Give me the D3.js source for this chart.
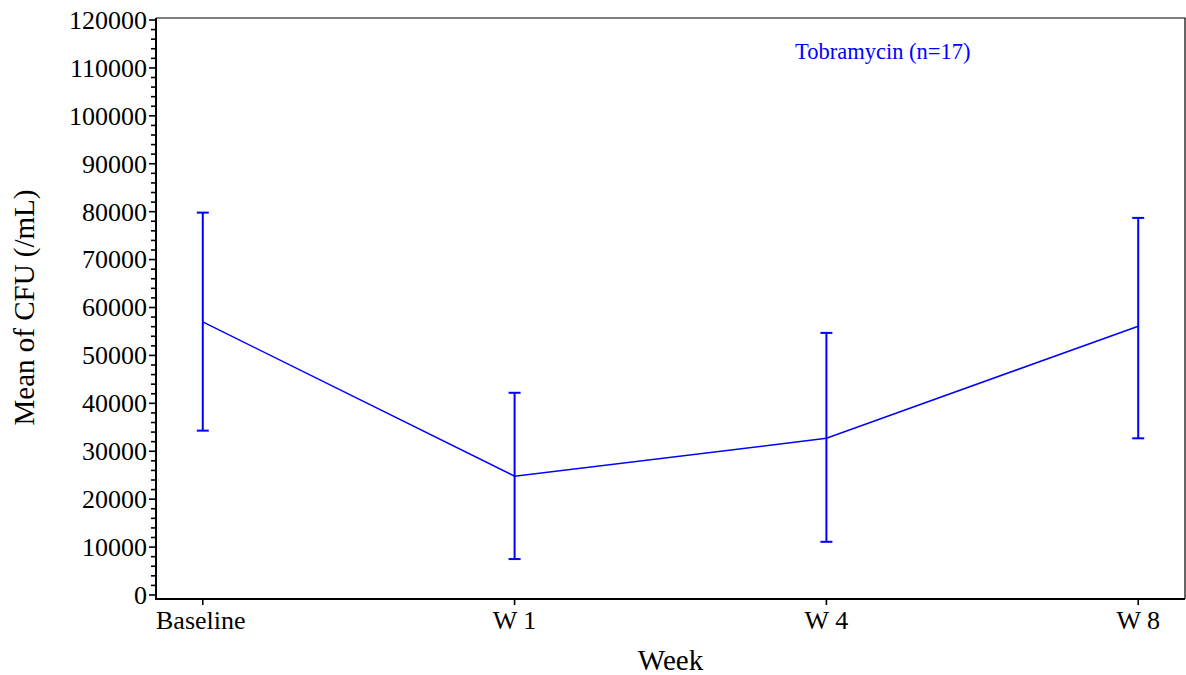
<!DOCTYPE html>
<meta charset="utf-8">
<style>
body { margin: 0; background: #fff; }
text { font-family: "Liberation Serif", "Times New Roman", serif; }
.axis path, .axis line { stroke: #000; }
</style>
<svg width="1186" height="675"></svg>
<script src="https://cdnjs.cloudflare.com/ajax/libs/d3/7.8.5/d3.min.js"></script>
<script>
// data
var weeks = ["Baseline", "W 1", "W 4", "W 8"];
var means = [57000, 24800, 32700, 56100];
var upper = [79800, 42200, 54700, 78700];
var lower = [34300, 7500, 11100, 32700];
var yTicks = d3.range(0, 120001, 10000);
var legendLabel = "Tobramycin (n=17)";

var svg = d3.select("svg"),
    plotL = 156, plotR = 1185, plotT = 18, plotB = 599;

var x = d3.scalePoint().domain(weeks).range([plotL, plotR]).padding(0.15),
    y = d3.scaleLinear().domain([0, 120000]).range([595, 20]);

// frame top/right
svg.append("path")
    .attr("d", "M" + plotL + "," + plotT + "H" + plotR + "V" + plotB)
    .attr("fill", "none")
    .attr("stroke", "#000")
    .attr("stroke-width", 1.2);

// y axis
var yAxis = svg.append("g")
    .attr("class", "axis")
    .attr("transform", "translate(" + plotL + ",0)");
yAxis.append("line")
    .attr("y1", plotT).attr("y2", plotB + 1)
    .attr("stroke-width", 2);
yAxis.selectAll(".minor")
    .data(d3.range(0, 120001, 2000))
    .enter().append("line")
      .attr("x1", -1).attr("x2", function(d) { return d % 10000 === 0 ? -7 : -5; })
      .attr("y1", function(d) { return y(d); })
      .attr("y2", function(d) { return y(d); })
      .attr("stroke-width", 1.6);
yAxis.selectAll(".lbl")
    .data(yTicks)
    .enter().append("text")
      .attr("x", -9)
      .attr("y", function(d) { return y(d); })
      .attr("dy", "0.34em")
      .attr("text-anchor", "end")
      .style("font-size", "26px")
      .text(function(d) { return d; });

// x axis
var xAxis = svg.append("g")
    .attr("class", "axis")
    .attr("transform", "translate(0," + plotB + ")");
xAxis.append("line")
    .attr("x1", plotL - 1).attr("x2", plotR)
    .attr("stroke-width", 2);
xAxis.selectAll(".tk")
    .data(weeks)
    .enter().append("line")
      .attr("x1", function(d) { return x(d); })
      .attr("x2", function(d) { return x(d); })
      .attr("y1", 0).attr("y2", 6)
      .attr("stroke-width", 1.6);
xAxis.selectAll(".lbl")
    .data(weeks)
    .enter().append("text")
      .attr("x", function(d, i) { return i === 0 ? plotL : x(d); })
      .attr("y", 30)
      .attr("text-anchor", function(d, i) { return i === 0 ? "start" : "middle"; })
      .style("font-size", "26px")
      .text(function(d) { return d; });

// axis titles
svg.append("text")
    .attr("x", (plotL + plotR) / 2)
    .attr("y", 670)
    .attr("text-anchor", "middle")
    .style("font-size", "29px")
    .text("Week");
svg.append("text")
    .attr("transform", "translate(34," + (y(0) + y(120000)) / 2 + ") rotate(-90)")
    .attr("text-anchor", "middle")
    .style("font-size", "29px")
    .text("Mean of CFU (/mL)");

// error bars
var bars = svg.append("g").attr("stroke", "#0000ff").attr("stroke-width", 2);
weeks.forEach(function(w, i) {
  var cx = x(w);
  bars.append("line").attr("x1", cx).attr("x2", cx).attr("y1", y(lower[i])).attr("y2", y(upper[i]));
  bars.append("line").attr("x1", cx - 6).attr("x2", cx + 6).attr("y1", y(upper[i])).attr("y2", y(upper[i]));
  bars.append("line").attr("x1", cx - 6).attr("x2", cx + 6).attr("y1", y(lower[i])).attr("y2", y(lower[i]));
});

// mean line
svg.append("path")
    .datum(means)
    .attr("fill", "none")
    .attr("stroke", "#0000ff")
    .attr("stroke-width", 1.5)
    .attr("d", d3.line()
      .x(function(d, i) { return x(weeks[i]); })
      .y(function(d) { return y(d); }));

// legend
svg.append("text")
    .attr("x", 795)
    .attr("y", 59)
    .attr("fill", "#0000ff")
    .style("font-size", "22.5px")
    .text(legendLabel);
</script>
